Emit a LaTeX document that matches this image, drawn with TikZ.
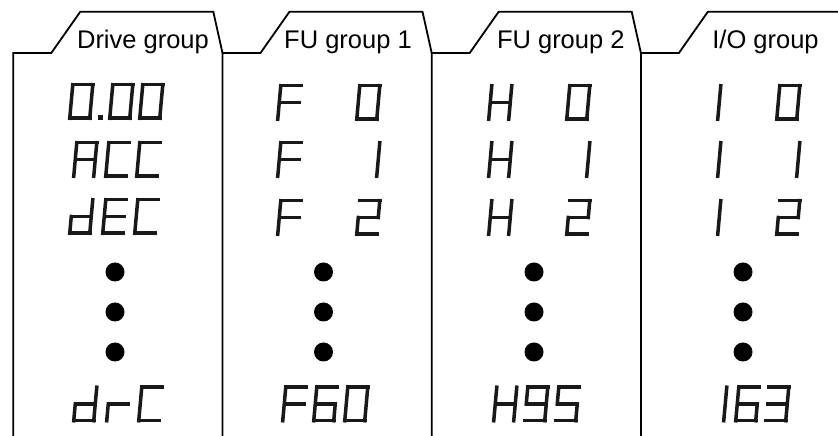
\documentclass[tikz,border=0pt]{standalone}
\usepackage{fontspec}
\setmainfont{Liberation Sans}
\tikzset{
  seg/.style={line width=3.5pt, line cap=rect, line join=miter, draw=black!90},
  tabline/.style={line width=1.8pt, line join=miter},
  hdr/.style={anchor=base, inner sep=0pt, font=\fontsize{25.5}{28}\selectfont},
  bullet/.style={circle, fill=black, minimum size=19pt, inner sep=0pt},
}
% segment lists (pairs of corner names)
\def\chZ{TL/TR,TR/BR,BL/BR,TL/BL}
\def\chOne{TR/BR}
\def\chTwo{TL/TR,TR/MR,ML/MR,ML/BL,BL/BR}
\def\chThree{TL/TR,TR/BR,ML/MR,BL/BR}
\def\chFive{TL/TR,TL/ML,ML/MR,MR/BR,BL/BR}
\def\chSix{TL/TR,TL/BL,ML/MR,MR/BR,BL/BR}
\def\chNine{TL/TR,TL/ML,TR/BR,ML/MR,BL/BR}
\def\chA{TL/TR,TL/BL,TR/BR,ML/MR}
\def\chC{TL/TR,TL/BL,BL/BR}
\def\chd{TR/BR,ML/MR,ML/BL,BL/BR}
\def\chE{TL/TR,TL/BL,ML/MR,BL/BR}
\def\chF{TL/TR,TL/BL,ML/MR}
\def\chH{TL/BL,TR/BR,ML/MR}
\def\chr{ML/MR,ML/BL}
% #1 = left x, #2 = bottom y (image rows, downward), #3 = segment list
\newcommand\sevseg[3]{%
  \begin{scope}[shift={({#1+1.75},{436-#2+1.75})}, xslant=0.09]
    \coordinate (TL) at (0,33.5);  \coordinate (TR) at (20,33.5);
    \coordinate (ML) at (0,16.75); \coordinate (MR) at (20,16.75);
    \coordinate (BL) at (0,0);     \coordinate (BR) at (20,0);
    \foreach \p/\q in #3 {\draw[seg] (\p) -- (\q);}
  \end{scope}}
\begin{document}
\begin{tikzpicture}[x=1pt,y=1pt]
\useasboundingbox (0,0) rectangle (838,436);
% panels with tabs
\draw[tabline] (13.3,0) -- (13.3,383) -- (51.3,383) -- (80.3,424.3) -- (213.3,424.3) -- (222.5,383);
\draw[tabline] (222.5,0) -- (222.5,383) -- (260.5,383) -- (289.5,424.3) -- (422.5,424.3) -- (431.7,383);
\draw[tabline] (431.7,0) -- (431.7,383) -- (469.7,383) -- (498.7,424.3) -- (631.7,424.3) -- (640.9,383);
\draw[tabline] (640.9,0) -- (640.9,383) -- (678.9,383) -- (707.9,424.3) -- (838,424.3);
% headers
\node[hdr] (h1) at (143,387) {Drive group};
\node[hdr] (h2) at (348,387) {FU group 1};
\node[hdr] (h3) at (560.8,387) {FU group 2};
\node[hdr] (h4) at (765.5,387) {I/O group};
% column 1
\sevseg{68}{120}{\chZ}
\fill[black!90] (98,316) rectangle (102.5,320.5);
\sevseg{108}{120}{\chZ}
\sevseg{138}{120}{\chZ}
\sevseg{72}{178}{\chA}
\sevseg{104}{178}{\chC}
\sevseg{135}{178}{\chC}
\sevseg{68}{235}{\chd}
\sevseg{101}{235}{\chE}
\sevseg{133}{235}{\chC}
\sevseg{72}{422.5}{\chd}
\sevseg{105}{422.5}{\chr}
\sevseg{137}{422.5}{\chC}
% column 2
\sevseg{276}{121}{\chF}
\sevseg{355}{121}{\chZ}
\sevseg{276}{178}{\chF}
\sevseg{355}{178}{\chOne}
\sevseg{276}{236}{\chF}
\sevseg{355}{236}{\chTwo}
\sevseg{281}{422.5}{\chF}
\sevseg{312}{422.5}{\chSix}
\sevseg{343}{422.5}{\chZ}
% column 3
\sevseg{487}{121}{\chH}
\sevseg{565}{121}{\chZ}
\sevseg{487}{178}{\chH}
\sevseg{565}{178}{\chOne}
\sevseg{487}{236}{\chH}
\sevseg{565}{236}{\chTwo}
\sevseg{492}{422.5}{\chH}
\sevseg{523}{422.5}{\chNine}
\sevseg{554}{422.5}{\chFive}
% column 4
\sevseg{696}{121}{\chOne}
\sevseg{775}{121}{\chZ}
\sevseg{696}{178}{\chOne}
\sevseg{775}{178}{\chOne}
\sevseg{696}{236}{\chOne}
\sevseg{775}{236}{\chTwo}
\sevseg{702}{422.5}{\chOne}
\sevseg{734}{422.5}{\chSix}
\sevseg{764}{422.5}{\chThree}
% ellipsis dots
\foreach \c/\x in {1/115,2/323.5,3/534,4/743}{
  \node[bullet] (d\c a) at (\x,164) {};
  \node[bullet] (d\c b) at (\x,124) {};
  \node[bullet] (d\c c) at (\x,84) {};
}
\end{tikzpicture}
\end{document}
